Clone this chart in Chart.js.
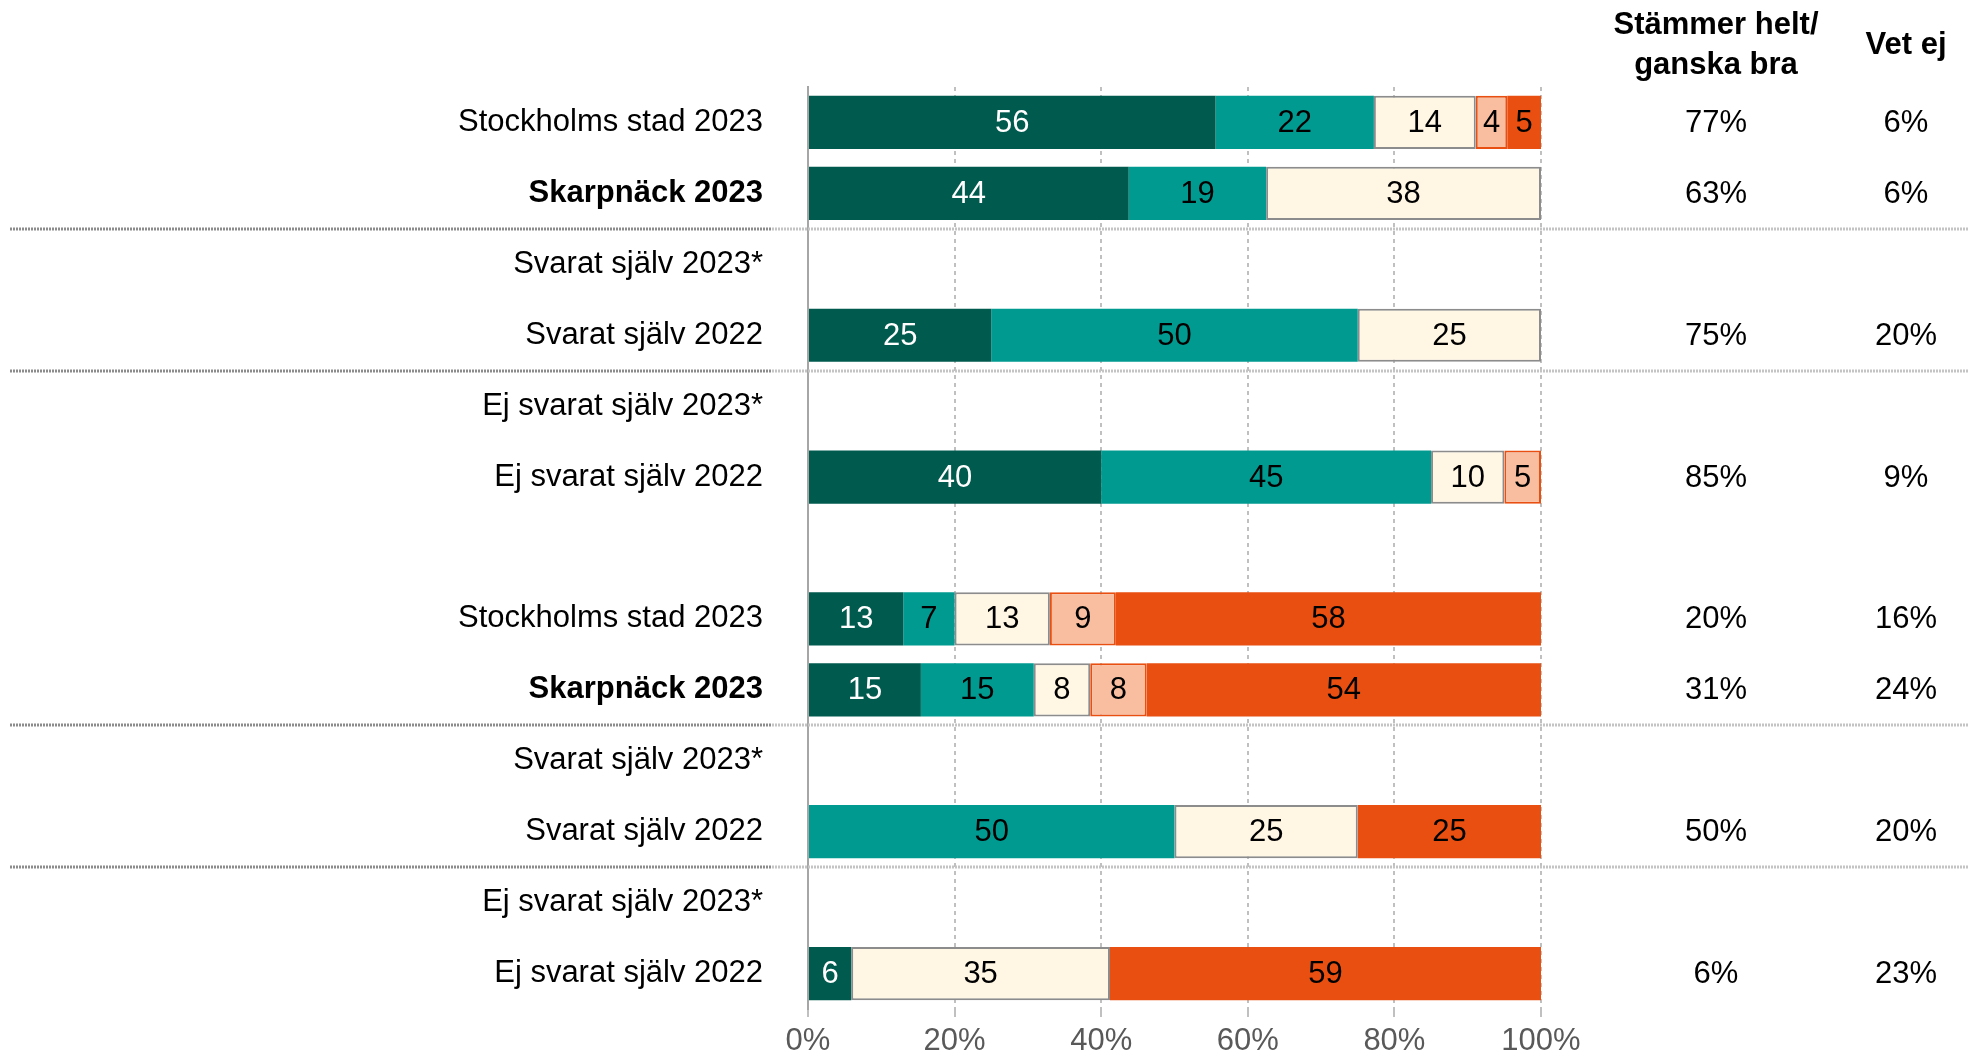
<!DOCTYPE html>
<html>
<head>
<meta charset="utf-8">
<script src="https://cdn.jsdelivr.net/npm/chart.js@4.4.0/dist/chart.umd.min.js"></script>
<style>
  html, body { margin: 0; padding: 0; background: #fff; }
  #wrap { width: 1977px; height: 1059px; }
</style>
</head>
<body>
<div id="wrap"><canvas id="chart" width="1977" height="1059"></canvas></div>
<script>
const rowLabels = [
  "Stockholms stad 2023", "Skarpnäck 2023", "Svarat själv 2023*", "Svarat själv 2022",
  "Ej svarat själv 2023*", "Ej svarat själv 2022", "",
  "Stockholms stad 2023", "Skarpnäck 2023", "Svarat själv 2023*", "Svarat själv 2022",
  "Ej svarat själv 2023*", "Ej svarat själv 2022"
];
const boldRows = [1, 8];
const separatorsAfter = [1, 3, 8, 10];

// andelar i procent per rad
const helt = [55.6, 43.75, null, 25, null, 40, null, 13, 15.4, null, null, null, 5.9];
const ganska = [21.6, 18.75, null, 50, null, 45, null, 7, 15.4, null, 50, null, null];
const varken = [13.9, 37.5, null, 25, null, 10, null, 13, 7.7, null, 25, null, 35.3];
const daligt = [4.3, null, null, null, null, 5, null, 9, 7.7, null, null, null, null];
const mycketDaligt = [4.6, null, null, null, null, null, null, 58, 53.8, null, 25, null, 58.8];

const agreeTotal = ["77%", "63%", "", "75%", "", "85%", "", "20%", "31%", "", "50%", "", "6%"];
const dontKnow = ["6%", "6%", "", "20%", "", "9%", "", "16%", "24%", "", "20%", "", "23%"];

const xTicks = [0, 20, 40, 60, 80, 100];
const FONT = "'Liberation Sans', Arial, sans-serif";

const dataLabels = {
  id: "dataLabels",
  afterDatasetsDraw(chart) {
    const ctx = chart.ctx;
    ctx.save();
    ctx.font = "31px " + FONT;
    ctx.textAlign = "center";
    ctx.textBaseline = "middle";
    chart.data.datasets.forEach((ds, i) => {
      chart.getDatasetMeta(i).data.forEach((bar, j) => {
        const v = ds.data[j];
        if (!v) return;
        const p = bar.getCenterPoint();
        ctx.fillStyle = ds.labelColor;
        ctx.fillText(Math.round(v), p.x, p.y + 1);
      });
    });
    ctx.restore();
  }
};

const sideColumns = {
  id: "sideColumns",
  beforeDatasetsDraw(chart) {
    const ctx = chart.ctx;
    const y = chart.scales.y;
    ctx.save();
    separatorsAfter.forEach(i => {
      const py = Math.round((y.getPixelForValue(i) + y.getPixelForValue(i + 1)) / 2);
      ctx.lineWidth = 3;
      ctx.setLineDash([2, 1]);
      ctx.strokeStyle = "#8c8c8c";
      ctx.beginPath(); ctx.moveTo(10, py); ctx.lineTo(772, py); ctx.stroke();
      ctx.strokeStyle = "#c4c4c4";
      ctx.beginPath(); ctx.moveTo(772, py); ctx.lineTo(1968, py); ctx.stroke();
    });
    ctx.restore();
  },
  afterDraw(chart) {
    const ctx = chart.ctx;
    const y = chart.scales.y;
    ctx.save();
    ctx.fillStyle = "#000";
    ctx.textAlign = "center";
    ctx.textBaseline = "middle";
    ctx.font = "bold 31px " + FONT;
    ctx.fillText("Stämmer helt/", 1716, 25);
    ctx.fillText("ganska bra", 1716, 65);
    ctx.fillText("Vet ej", 1906, 45);
    ctx.font = "31px " + FONT;
    rowLabels.forEach((_, i) => {
      const py = y.getPixelForValue(i) + 1;
      if (agreeTotal[i]) ctx.fillText(agreeTotal[i], 1716, py);
      if (dontKnow[i]) ctx.fillText(dontKnow[i], 1906, py);
    });
    ctx.restore();
  }
};

function series(data, bg, border, labelColor) {
  return {
    data: data,
    backgroundColor: bg,
    borderColor: border || bg,
    borderWidth: border ? 2 : 0,
    borderSkipped: false,
    labelColor: labelColor,
    barPercentage: 0.75,
    categoryPercentage: 1
  };
}

new Chart(document.getElementById("chart"), {
  type: "bar",
  data: {
    labels: rowLabels,
    datasets: [
      series(helt, "#005a4e", null, "#ffffff"),
      series(ganska, "#009a90", null, "#000000"),
      series(varken, "#fff6e3", "#8c8c8c", "#000000"),
      series(daligt, "#f8be9f", "#e84f10", "#000000"),
      series(mycketDaligt, "#e84f10", null, "#000000")
    ]
  },
  options: {
    indexAxis: "y",
    responsive: false,
    animation: false,
    layout: { padding: { top: 87, right: 436, bottom: 0, left: 0 } },
    plugins: { legend: { display: false }, tooltip: { enabled: false } },
    scales: {
      x: {
        stacked: true,
        min: 0,
        max: 100,
        afterBuildTicks: s => { s.ticks = xTicks.map(v => ({ value: v })); },
        afterFit: s => { s.height = 50; },
        border: { display: false, dash: [4, 4] },
        grid: {
          color: "#c0c0c0",
          lineWidth: 2,
          tickLength: 8,
          tickColor: "#c0c0c0"
        },
        ticks: {
          color: "#595959",
          padding: 6,
          font: { family: FONT, size: 31 },
          callback: v => v + "%"
        }
      },
      y: {
        stacked: true,
        afterFit: s => { s.width = 808; },
        border: { display: true, color: "#a6a6a6", width: 2 },
        // osynliga tickmarks ger avståndet mellan etiketter och axel
        grid: { display: false, drawTicks: true, tickLength: 45, tickColor: "rgba(0,0,0,0)" },
        ticks: {
          color: "#000",
          padding: 0,
          font: c => ({ family: FONT, size: 31, weight: boldRows.includes(c.index) ? "bold" : "normal" })
        }
      }
    }
  },
  plugins: [dataLabels, sideColumns]
});
</script>
</body>
</html>
